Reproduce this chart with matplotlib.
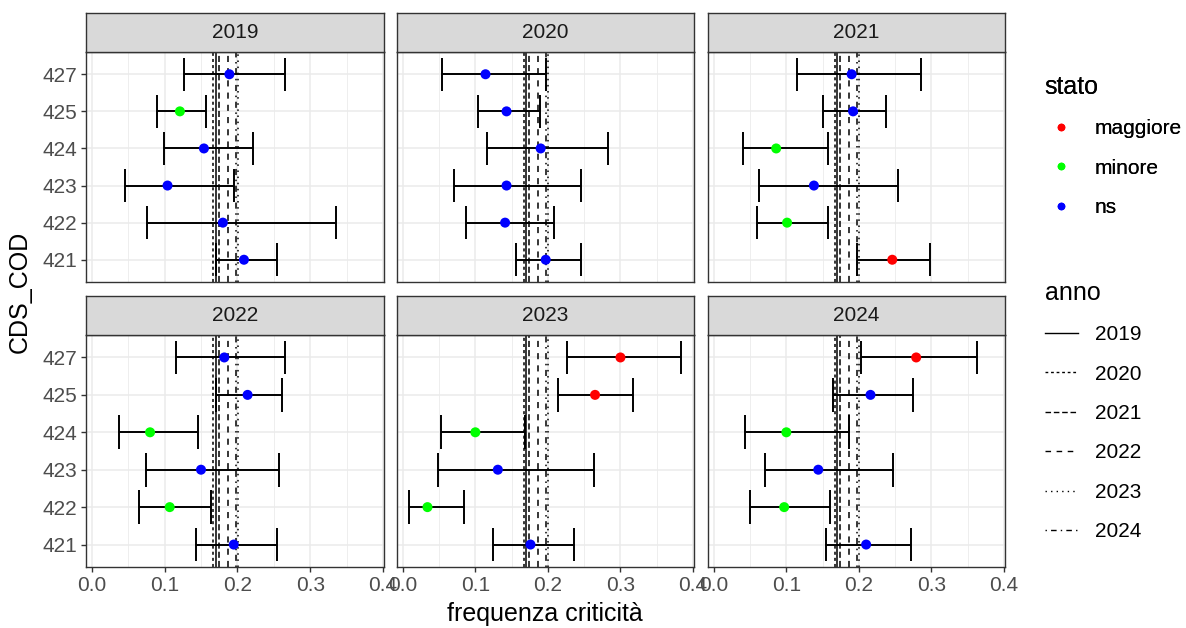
import matplotlib
matplotlib.use("Agg")
import matplotlib.pyplot as plt
from matplotlib.lines import Line2D
import numpy as np

plt.rcParams['font.family'] = ['Liberation Sans', 'DejaVu Sans']

# anni (pannelli) e codici dei corsi
anni = [2019, 2020, 2021, 2022, 2023, 2024]
cds = ["421", "422", "423", "424", "425", "427"]

# frequenza osservata e intervallo, un elenco per anno (ordine come cds)
freq = [
    [0.209, 0.180, 0.104, 0.154, 0.121, 0.189],
    [0.197, 0.141, 0.143, 0.190, 0.143, 0.114],
    [0.246, 0.101, 0.138, 0.086, 0.192, 0.190],
    [0.195, 0.107, 0.150, 0.080, 0.214, 0.182],
    [0.176, 0.034, 0.131, 0.100, 0.265, 0.300],
    [0.210, 0.097, 0.144, 0.100, 0.216, 0.279],
]
inf = [
    [0.171, 0.076, 0.046, 0.099, 0.090, 0.127],
    [0.156, 0.087, 0.070, 0.116, 0.103, 0.054],
    [0.198, 0.059, 0.062, 0.040, 0.150, 0.114],
    [0.143, 0.065, 0.074, 0.037, 0.170, 0.115],
    [0.124, 0.009, 0.049, 0.052, 0.214, 0.226],
    [0.155, 0.050, 0.071, 0.043, 0.164, 0.203],
]
sup = [
    [0.254, 0.335, 0.195, 0.222, 0.157, 0.266],
    [0.245, 0.209, 0.246, 0.283, 0.189, 0.197],
    [0.298, 0.158, 0.254, 0.157, 0.237, 0.285],
    [0.254, 0.164, 0.257, 0.146, 0.261, 0.266],
    [0.236, 0.084, 0.263, 0.169, 0.318, 0.383],
    [0.272, 0.160, 0.247, 0.186, 0.274, 0.363],
]
stato = [
    ["ns", "ns", "ns", "ns", "minore", "ns"],
    ["ns", "ns", "ns", "ns", "ns", "ns"],
    ["maggiore", "minore", "ns", "minore", "ns", "ns"],
    ["ns", "minore", "ns", "minore", "ns", "ns"],
    ["ns", "minore", "ns", "minore", "maggiore", "maggiore"],
    ["ns", "minore", "ns", "minore", "ns", "maggiore"],
]
# frequenza media di ateneo per anno (linee verticali)
riferimento = [0.1705, 0.1668, 0.1746, 0.1865, 0.2003, 0.1975]

colori = {"maggiore": "#FF0000", "minore": "#00FF00", "ns": "#0000FF"}
tratti = [None, (2, 2), (4, 2), (4, 4), (1, 3), (1, 3, 4, 3)]

W, H = 1186, 628
fig = plt.figure(figsize=(W / 100, H / 100), dpi=100)

cols = [(86, 384), (397, 694), (708, 1005)]
rows = [(13, 52, 282), (296, 335, 567)]

def box(x0, x1, y0, y1):
    return [x0 / W, 1 - y1 / H, (x1 - x0) / W, (y1 - y0) / H]

ypos = np.arange(len(cds))
for k, anno in enumerate(anni):
    r, c = divmod(k, 3)
    x0, x1 = cols[c]
    st_top, st_bot, p_bot = rows[r]
    ax = fig.add_axes(box(x0, x1, st_bot, p_bot))

    # linee di riferimento
    for j, a in enumerate(anni):
        ln = ax.axvline(riferimento[j], color="black", lw=1.1, zorder=1.5)
        if tratti[j] is not None:
            ln.set_dashes(tratti[j])

    # barre di errore con stanghette
    ax.hlines(ypos, inf[k], sup[k], color="black", lw=1.4, zorder=2)
    ax.vlines(inf[k], ypos - 0.45, ypos + 0.45, color="black", lw=1.4, zorder=2)
    ax.vlines(sup[k], ypos - 0.45, ypos + 0.45, color="black", lw=1.4, zorder=2)
    ax.scatter(freq[k], ypos, s=52, c=[colori[s] for s in stato[k]],
               zorder=3, linewidths=0)

    ax.set_xlim(-0.008, 0.4014)
    ax.set_ylim(-0.6, len(cds) - 0.4)
    ax.set_xticks([0.0, 0.1, 0.2, 0.3, 0.4])
    ax.set_xticks([0.05, 0.15, 0.25, 0.35], minor=True)
    ax.set_yticks(ypos)
    ax.grid(True, which="major", color="#EBEBEB", lw=1.1, zorder=0)
    ax.grid(True, which="minor", axis="x", color="#EBEBEB", lw=0.6, zorder=0)
    ax.set_axisbelow(True)
    for sp in ax.spines.values():
        sp.set_color("#333333")
        sp.set_linewidth(1.0)
    ax.tick_params(which="minor", length=0)
    ax.tick_params(which="major", length=3.5, width=1.0, color="#333333",
                   labelcolor="#4D4D4D", labelsize=15, pad=3)
    if r == 0:
        ax.tick_params(axis="x", length=0, labelbottom=False)
    else:
        ax.set_xticklabels(["0.0", "0.1", "0.2", "0.3", "0.4"])
    if c == 0:
        ax.set_yticklabels(cds)
    else:
        ax.tick_params(axis="y", length=0, labelleft=False)

    # striscia con l'anno
    sx = fig.add_axes(box(x0, x1, st_top, st_bot))
    sx.set_facecolor("#D9D9D9")
    sx.set_xticks([])
    sx.set_yticks([])
    for sp in sx.spines.values():
        sp.set_color("#333333")
        sp.set_linewidth(1.0)
    sx.text(0.5, 0.5, str(anno), ha="center", va="center",
            fontsize=15, color="#1A1A1A", transform=sx.transAxes)

fig.text(545 / W, 1 - 614 / H, "frequenza criticità", ha="center", va="center",
         fontsize=18, color="black")
fig.text(20 / W, 1 - 292 / H, "CDS_COD", ha="center", va="center",
         rotation=90, fontsize=18, color="black")

# legende
h_stato = [Line2D([], [], ls="none", marker="o", ms=5.5, mec="none",
                  color=colori[s]) for s in ["maggiore", "minore", "ns"]]
leg1 = fig.legend(h_stato, ["maggiore", "minore", "ns"], title="stato",
                  loc="upper left", bbox_to_anchor=(1026 / W, 1 - 56 / H),
                  frameon=False, fontsize=15, title_fontsize=18,
                  handlelength=1.6, handletextpad=0.8, labelspacing=0.98,
                  alignment="left")
h_anno = []
for t in tratti:
    ln = Line2D([], [], color="black", lw=1.0)
    if t is not None:
        ln.set_dashes(t)
    h_anno.append(ln)
leg2 = fig.legend(h_anno, [str(a) for a in anni], title="anno",
                  loc="upper left", bbox_to_anchor=(1026 / W, 1 - 262 / H),
                  frameon=False, fontsize=15, title_fontsize=18,
                  handlelength=1.6, handletextpad=0.8, labelspacing=0.98,
                  alignment="left")
fig.add_artist(leg1)

fig.savefig("out.png", dpi=100)
